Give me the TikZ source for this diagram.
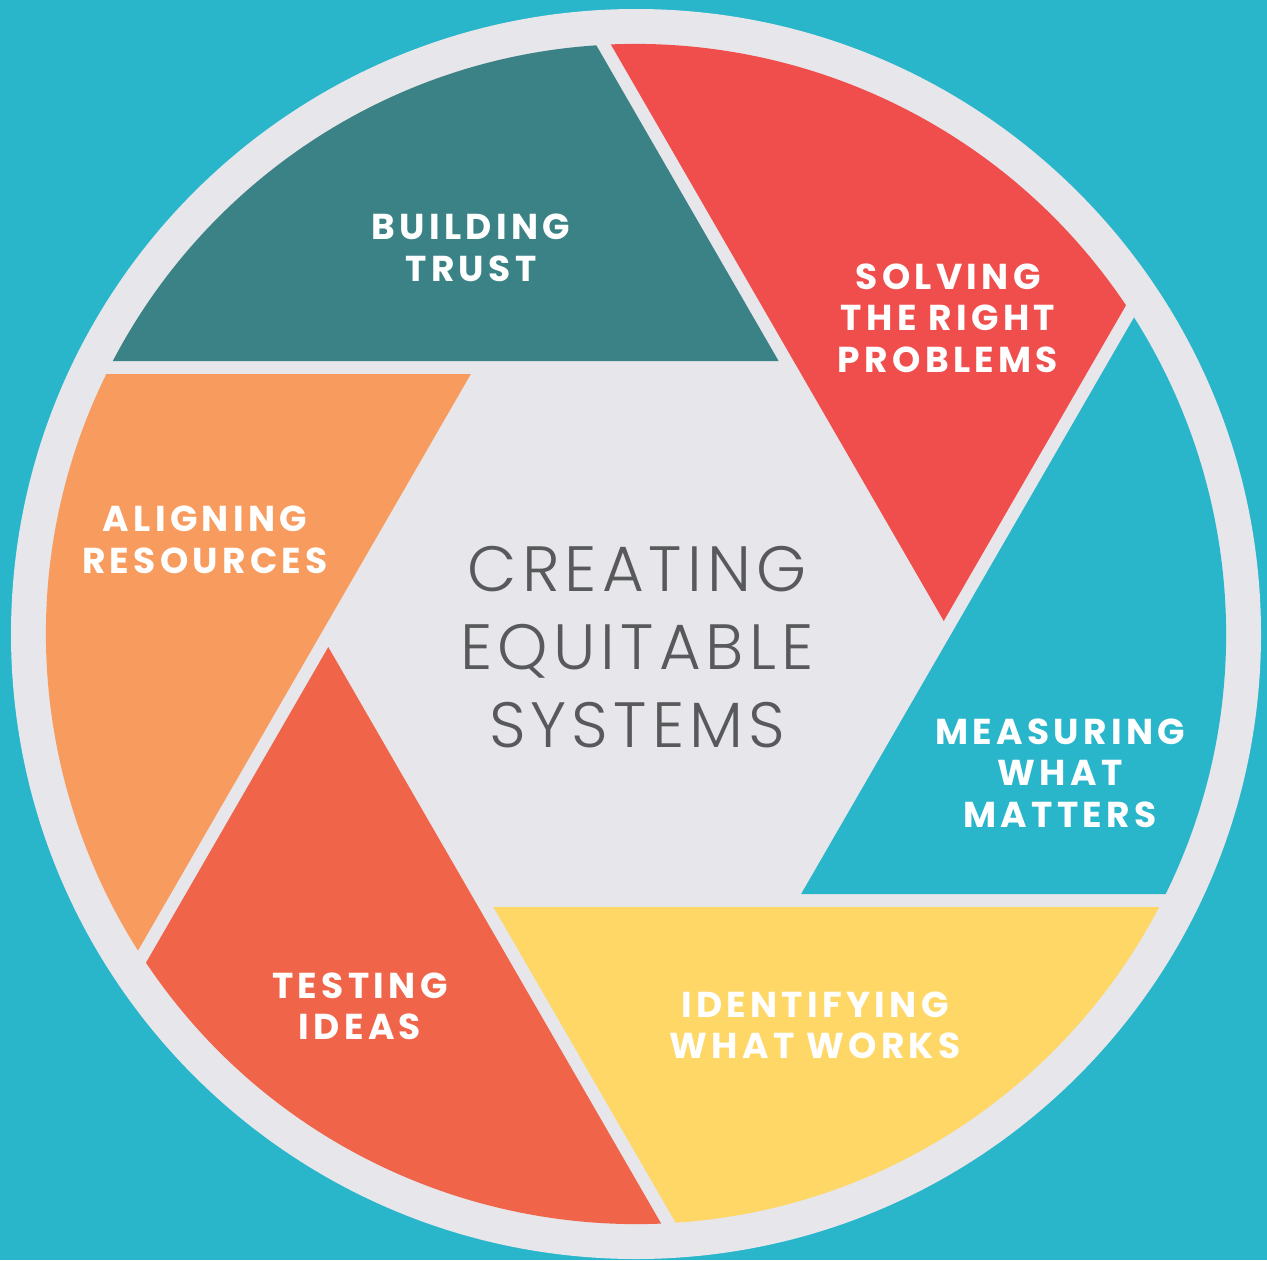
\documentclass[tikz,border=0pt]{standalone}
\usepackage{fontspec}
\usepackage{tikz}
\newfontfamily\bladefont{Poppins Bold}[LetterSpace=12]
\newfontfamily\hubfont{Poppins Light}[LetterSpace=8]

\begin{document}
\begin{tikzpicture}[x=0.75pt,y=0.75pt,yscale=-1,
  blade label/.style={text=white,align=center,inner sep=0pt,font=\bladefont\fontsize{27}{31}\selectfont},
  hub label/.style={text={rgb, 255:red, 88; green, 89; blue, 91 },align=center,inner sep=0pt,font=\hubfont\fontsize{48}{58.5}\selectfont}]
\useasboundingbox (0,0) rectangle (1267,1260);

%Shape: Rectangle [id:background]
\fill [color={rgb, 255:red, 41; green, 181; blue, 202 }] (0,0) rectangle (1267,1260);
%Shape: Circle [id:ring]
\fill [color={rgb, 255:red, 230; green, 230; blue, 235 }] (636,634) circle (625);

%Shape: Blade [id:building]
\begin{scope}[shift={(636,634)},rotate=0]
\clip (0,0) circle (590);
\fill [color={rgb, 255:red, 58; green, 130; blue, 133 }] (-750,-273) -- (142.6,-273) -- (-232.4,-922.5) -- (-750,-922.5) -- cycle;
\end{scope}
%Shape: Blade [id:solving]
\begin{scope}[shift={(636,634)},rotate=60]
\clip (0,0) circle (590);
\fill [color={rgb, 255:red, 240; green, 78; blue, 76 }] (-750,-273) -- (142.6,-273) -- (-232.4,-922.5) -- (-750,-922.5) -- cycle;
\end{scope}
%Shape: Blade [id:measuring]
\begin{scope}[shift={(636,634)},rotate=120]
\clip (0,0) circle (590);
\fill [color={rgb, 255:red, 41; green, 181; blue, 202 }] (-750,-273) -- (142.6,-273) -- (-232.4,-922.5) -- (-750,-922.5) -- cycle;
\end{scope}
%Shape: Blade [id:identifying]
\begin{scope}[shift={(636,634)},rotate=180]
\clip (0,0) circle (590);
\fill [color={rgb, 255:red, 254; green, 215; blue, 102 }] (-750,-273) -- (142.6,-273) -- (-232.4,-922.5) -- (-750,-922.5) -- cycle;
\end{scope}
%Shape: Blade [id:testing]
\begin{scope}[shift={(636,634)},rotate=240]
\clip (0,0) circle (590);
\fill [color={rgb, 255:red, 240; green, 100; blue, 74 }] (-750,-273) -- (142.6,-273) -- (-232.4,-922.5) -- (-750,-922.5) -- cycle;
\end{scope}
%Shape: Blade [id:aligning]
\begin{scope}[shift={(636,634)},rotate=300]
\clip (0,0) circle (590);
\fill [color={rgb, 255:red, 247; green, 155; blue, 94 }] (-750,-273) -- (142.6,-273) -- (-232.4,-922.5) -- (-750,-922.5) -- cycle;
\end{scope}

% Text Node
\node [blade label] (building) at (471,248) {BUILDING\\TRUST};
% Text Node
\node [blade label] (solving) at (948,318) {SOLVING\\THE RIGHT\\PROBLEMS};
% Text Node
\node [blade label] (measuring) at (1060,773) {MEASURING\\WHAT\\MATTERS};
% Text Node
\node [blade label] (identifying) at (815,1025) {IDENTIFYING\\WHAT WORKS};
% Text Node
\node [blade label] (testing) at (360,1006) {TESTING\\IDEAS};
% Text Node
\node [blade label] (aligning) at (205,540) {ALIGNING\\RESOURCES};
% Text Node
\node [hub label] (hub) at (637,647) {CREATING\\EQUITABLE\\SYSTEMS};

\end{tikzpicture}
\end{document}
